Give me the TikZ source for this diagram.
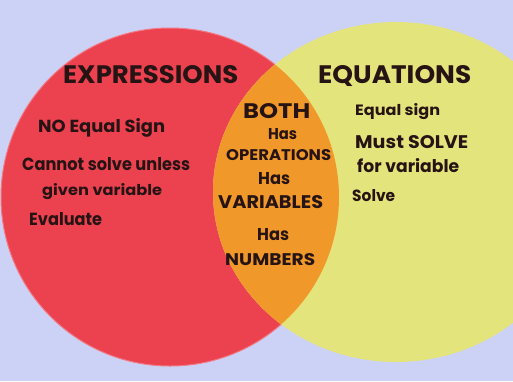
\documentclass[tikz,border=0pt]{standalone}
\usepackage{fontspec}
\setmainfont{Poppins}
\usepackage{graphicx}
\definecolor{bgc}{RGB}{204,210,246}
\definecolor{redc}{RGB}{236,66,80}
\definecolor{rededge}{RGB}{242,120,130}
\definecolor{yelc}{RGB}{228,228,124}
\definecolor{orc}{RGB}{240,152,42}
\definecolor{ink}{RGB}{38,20,20}
\newcommand\fittext[3]{\resizebox{#1pt}{#2pt}{#3}}
\tikzset{
  lbl/.style={anchor=base west, inner sep=0pt, text=ink, font=\bfseries},
}
\begin{document}
\begin{tikzpicture}[x=1pt,y=-1pt]
\useasboundingbox (0,0) rectangle (513,381);
\fill[bgc] (0,0) rectangle (513,381);
% circles
\fill[redc] (170,197) circle (169);
\draw[rededge, line width=1pt] (170,197) circle (169);
\fill[yelc] (396,192) ellipse [x radius=183, y radius=170];
\begin{scope}
  \clip (170,197) circle (169);
  \fill[orc] (396,192) ellipse [x radius=183, y radius=170];
\end{scope}
% left texts
\node[lbl] (expr) at (63,83) {\fittext{175}{18}{EXPRESSIONS}};
\node[lbl] (noeq) at (38,132) {\fittext{127}{14}{NO Equal Sign}};
\node[lbl] (cannot) at (22,170) {\fittext{168}{13}{Cannot solve unless}};
\node[lbl] (given) at (42,195) {\fittext{120}{12}{given variable}};
\node[lbl] (eval) at (29,225) {\fittext{73}{13}{Evaluate}};
% right texts
\node[lbl] (equ) at (318,83) {\fittext{153}{18}{EQUATIONS}};
\node[lbl] (eqsign) at (355,115) {\fittext{85}{12}{Equal sign}};
\node[lbl] (must) at (355,148) {\fittext{113}{13}{Must SOLVE}};
\node[lbl] (forvar) at (357,172) {\fittext{102}{14}{for variable}};
\node[lbl] (solve) at (352,201) {\fittext{43}{12}{Solve}};
% middle texts
\node[lbl] (both) at (243,118) {\fittext{67}{15}{BOTH}};
\node[lbl] (has1) at (268,139) {\fittext{29}{11}{Has}};
\node[lbl] (ops) at (226,160) {\fittext{105}{11}{OPERATIONS}};
\node[lbl] (has2) at (258,184) {\fittext{32}{12}{Has}};
\node[lbl] (vars) at (218,208) {\fittext{105}{13}{VARIABLES}};
\node[lbl] (has3) at (257,240) {\fittext{32}{12}{Has}};
\node[lbl] (nums) at (225,265) {\fittext{90}{12}{NUMBERS}};
\end{tikzpicture}
\end{document}
